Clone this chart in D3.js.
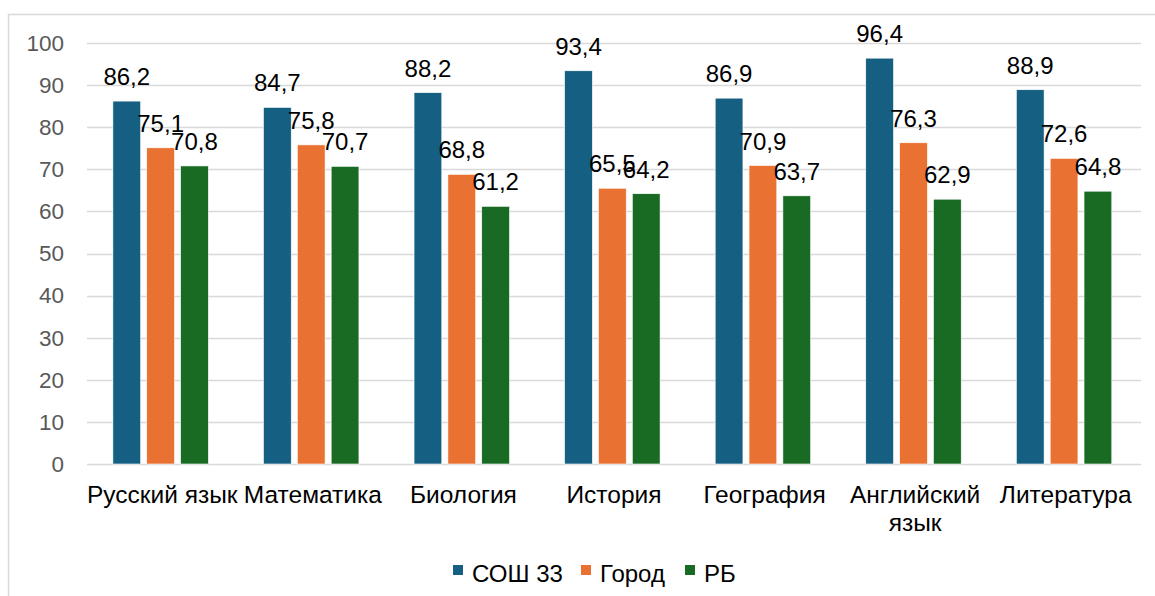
<!DOCTYPE html>
<html>
<head>
<meta charset="utf-8">
<script src="https://cdn.jsdelivr.net/npm/d3@7"></script>
<style>
  html, body { margin: 0; padding: 0; background: #fff; }
  svg { display: block; font-family: "Liberation Sans", Arial, sans-serif; }
</style>
</head>
<body>
<svg id="chart" width="1155" height="596"></svg>
<script>
const categories = ["Русский язык", "Математика", "Биология", "История", "География", "Английский язык", "Литература"];
const seriesNames = ["СОШ 33", "Город", "РБ"];
const school = [86.2, 84.7, 88.2, 93.4, 86.9, 96.4, 88.9];
const city = [75.1, 75.8, 68.8, 65.5, 70.9, 76.3, 72.6];
const republic = [70.8, 70.7, 61.2, 64.2, 63.7, 62.9, 64.8];
const yTicks = [0, 10, 20, 30, 40, 50, 60, 70, 80, 90, 100];
const colors = ["#156082", "#E97132", "#196B24"];

(function () {
const seriesValues = [school, city, republic];
const svg = d3.select("#chart");

// outer frame
svg.append("rect").attr("x", 8.5).attr("y", 14.5).attr("width", 1160).attr("height", 600)
  .attr("fill", "none").attr("stroke", "#d9d9d9").attr("stroke-width", 1.5);

const plotLeft = 87, plotRight = 1141, plotTop = 43, plotBottom = 464;
const x0 = d3.scaleBand().domain(categories).range([plotLeft, plotRight]).padding(0);
const bw = x0.bandwidth();
const x1 = d3.scaleBand().domain(seriesNames).range([bw * 0.172, bw * 0.806]).paddingInner(0.18).paddingOuter(0);
const y = d3.scaleLinear().domain([0, 100]).range([plotBottom, plotTop]);

// gridlines
svg.append("g").selectAll("line").data(yTicks).join("line")
  .attr("x1", plotLeft).attr("x2", plotRight)
  .attr("y1", d => Math.round(y(d)) + 0.5).attr("y2", d => Math.round(y(d)) + 0.5)
  .attr("stroke", "#d9d9d9").attr("stroke-width", 1.5);

// y tick labels
svg.append("g").selectAll("text").data(yTicks).join("text")
  .attr("x", 64).attr("y", d => y(d)).attr("dy", "0.35em")
  .attr("text-anchor", "end").attr("fill", "#595959").attr("font-size", 22.5)
  .text(d => d);

// bars
const rows = [];
categories.forEach((c, i) => seriesNames.forEach((s, j) => rows.push({c, s, j, v: seriesValues[j][i]})));

const g = svg.append("g");
g.selectAll("rect").data(rows).join("rect")
  .attr("x", d => x0(d.c) + x1(d.s))
  .attr("y", d => y(d.v))
  .attr("width", x1.bandwidth())
  .attr("height", d => y(0) - y(d.v))
  .attr("fill", d => colors[d.j])
  .attr("stroke", "#ffffff").attr("stroke-width", 0.6);

// data labels
g.selectAll("text").data(rows).join("text")
  .attr("x", d => x0(d.c) + x1(d.s) + x1.bandwidth() / 2)
  .attr("y", d => y(d.v) - 16)
  .attr("text-anchor", "middle").attr("font-size", 24).attr("fill", "#000")
  .text(d => d.v.toFixed(1).replace(".", ","));

// category labels
const cat = svg.append("g");
categories.forEach(c => {
  const t = cat.append("text").attr("x", x0(c) + bw / 2).attr("y", 503)
    .attr("text-anchor", "middle").attr("font-size", 24.5).attr("fill", "#000").text(c);
  if (t.node().getComputedTextLength() > bw * 1.08) {
    const words = c.split(" ");
    t.text(null);
    words.forEach((w, i) => t.append("tspan").attr("x", x0(c) + bw / 2).attr("dy", i === 0 ? 0 : 28).text(w));
  }
});

// legend
const legendItems = [
  {name: seriesNames[0], color: colors[0], x: 453},
  {name: seriesNames[1], color: colors[1], x: 581},
  {name: seriesNames[2], color: colors[2], x: 685}
];
const lg = svg.append("g");
lg.selectAll("rect").data(legendItems).join("rect")
  .attr("x", d => d.x).attr("y", 565).attr("width", 10).attr("height", 10).attr("fill", d => d.color);
lg.selectAll("text").data(legendItems).join("text")
  .attr("x", d => d.x + 19).attr("y", 582).attr("font-size", 24).attr("fill", "#000")
  .text(d => d.name);
})();
</script>
</body>
</html>
